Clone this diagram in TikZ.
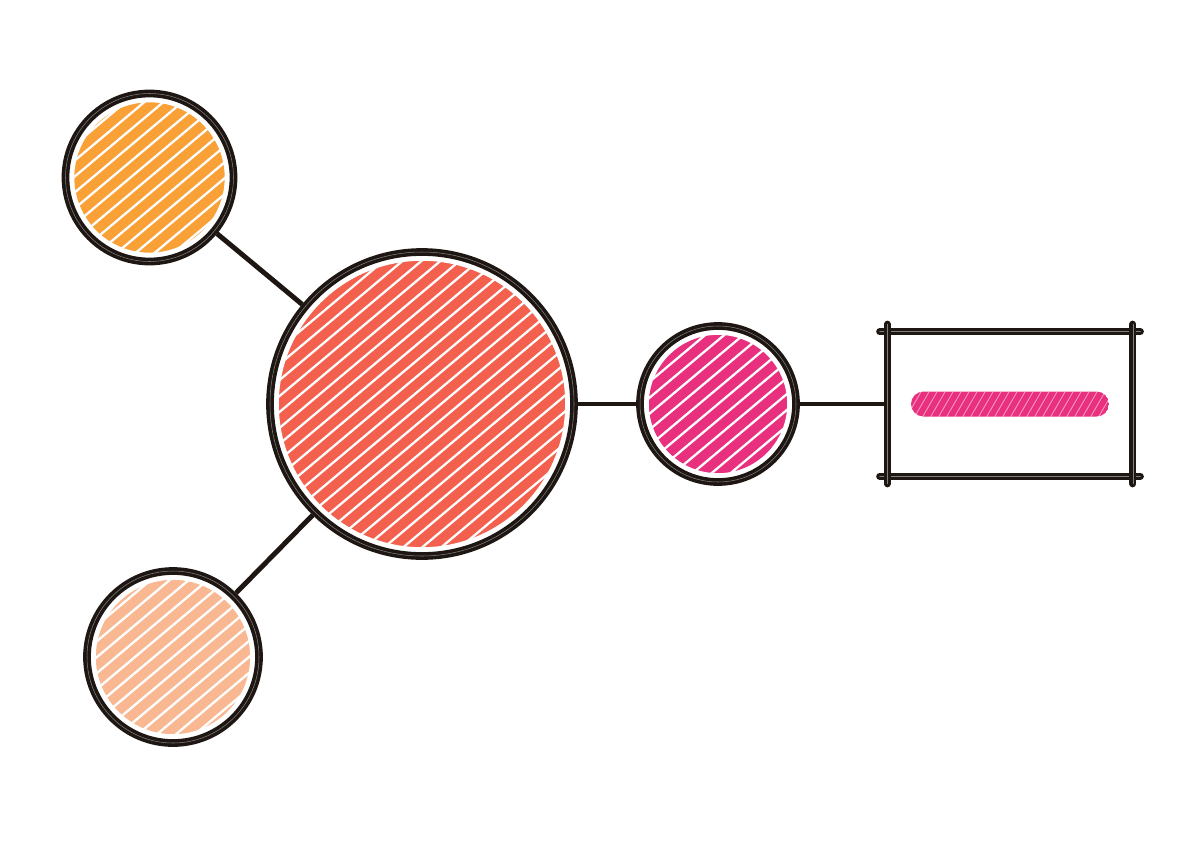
\documentclass[tikz,border=0pt]{standalone}
\usetikzlibrary{positioning}

\definecolor{ink}{RGB}{30,22,18}
\definecolor{hubred}{RGB}{244,96,78}
\definecolor{leaforange}{RGB}{249,160,55}
\definecolor{leafpeach}{RGB}{249,184,146}
\definecolor{linkpink}{RGB}{232,48,127}

\begin{document}
\begin{tikzpicture}[node distance=3cm, on grid,
    blob/.style 2 args={circle, inner sep=0pt, minimum size=#1, draw=ink, line width=4.4pt,
        postaction={draw=white!45!ink, line width=0.3pt},
        path picture={
            \fill[#2] (path picture bounding box.south west) rectangle (path picture bounding box.north east);
            \foreach \k in {-18,...,18}
                \draw[white, line width=1.3pt] ([xshift=\k*0.38cm]path picture bounding box.center) ++(220:7) -- ++(40:14);
            \draw[white, line width=10pt] (path picture bounding box.center) circle [radius=#1/2];
        }},
    bar/.style={rectangle, rounded corners=0.25cm, inner sep=0pt, minimum width=3.96cm, minimum height=0.5cm,
        path picture={
            \fill[linkpink] (path picture bounding box.south west) rectangle (path picture bounding box.north east);
            \foreach \k in {-14,...,14}
                \draw[white, line width=0.5pt, opacity=0.5] ([xshift=\k*0.16cm]path picture bounding box.center) ++(240:1) -- ++(60:2);
        }},
    link/.style={ink, line width=2.8pt},
    boxline/.style={ink, line width=4pt, line cap=round, shorten <=-0.15cm, shorten >=-0.15cm,
        postaction={draw=white!45!ink, line width=0.3pt}}]

    \useasboundingbox (0,0) rectangle (24,-16.8);

    % nodes
    \node[blob={6.08cm}{hubred}] (hub) at (8.44,-8.08) {};
    \node[blob={3.36cm}{leaforange}] (top) [above left=4.53cm and 5.45cm of hub] {};
    \node[blob={3.44cm}{leafpeach}] (bottom) [below left=5.06cm and 4.98cm of hub] {};
    \node[blob={3.12cm}{linkpink}] (mid) [right=5.92cm of hub] {};
    \node[rectangle, minimum width=4.9cm, minimum height=2.88cm] (box) [right=5.84cm of mid] {};
    \node[bar] (dash) at (box.center) {};

    % connectors
    \draw[link] (top) -- (hub);
    \draw[link] (bottom) -- (hub);
    \draw[link] (hub) -- (mid);
    \draw[link] (mid) -- (box);

    % sketchy frame
    \draw[boxline] (box.north west) -- (box.north east);
    \draw[boxline] (box.south west) -- (box.south east);
    \draw[boxline] (box.north west) -- (box.south west);
    \draw[boxline] (box.north east) -- (box.south east);
\end{tikzpicture}
\end{document}
